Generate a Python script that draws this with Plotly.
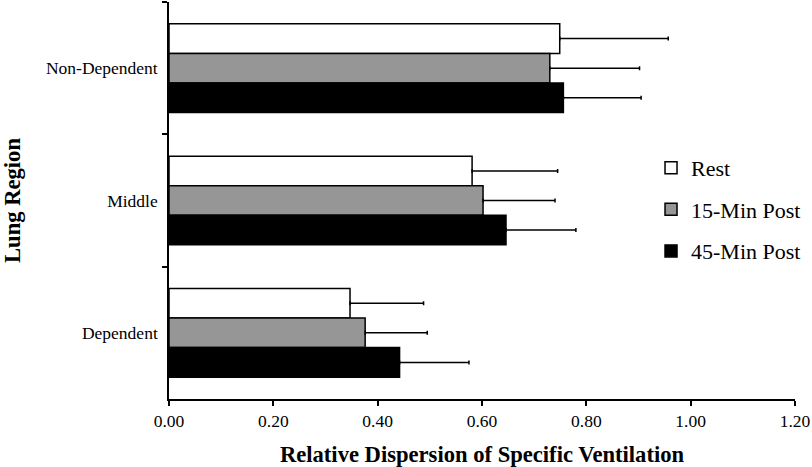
import plotly.graph_objects as go

regions = ["Non-Dependent", "Middle", "Dependent"]
series_names = ["Rest", "15-Min Post", "45-Min Post"]
rest = [0.749, 0.581, 0.347]
min15 = [0.730, 0.602, 0.376]
min45 = [0.756, 0.646, 0.442]
rest_err = [0.208, 0.164, 0.141]
min15_err = [0.172, 0.138, 0.119]
min45_err = [0.149, 0.134, 0.133]
colors = ["#ffffff", "#969696", "#000000"]

FONT = "Liberation Serif, Times New Roman, serif"

fig = go.Figure()
for i, (name, vals, errs, col) in enumerate(zip(series_names, [rest, min15, min45],
                                 [rest_err, min15_err, min45_err], colors)):
    fig.add_trace(go.Bar(
        y=regions, x=vals, name=name, orientation="h", legendgroup=str(i),
        marker=dict(color=col, line=dict(color="black", width=1.5)),
        error_x=dict(type="data", array=errs, symmetric=False, arrayminus=[0]*len(errs),
                     color="black", thickness=1.5, width=2),
    ))

fig.update_layout(
    width=812, height=467,
    margin=dict(l=169, r=17, t=2, b=68),
    plot_bgcolor="white", paper_bgcolor="white",
    font=dict(family=FONT, color="black", size=17.5),
    barmode="group", bargap=0.33, bargroupgap=0,
    showlegend=True,
    legend=dict(x=0.77, xanchor="left", y=0.635, yanchor="top",
                font=dict(size=22, family=FONT), tracegroupgap=10,
                bgcolor="rgba(0,0,0,0)"),
    xaxis=dict(range=[0, 1.2], dtick=0.2, tickformat=".2f", automargin=False,
               showline=True, linecolor="black", linewidth=1.5,
               ticks="outside", ticklen=5, tickwidth=1.5, tickcolor="black",
               showgrid=False, zeroline=False,
               title=dict(text="<b>Relative Dispersion of Specific Ventilation</b>",
                          font=dict(size=22.6, family=FONT), standoff=16)),
    yaxis=dict(autorange="reversed", tickson="boundaries", automargin=False,
               showline=True, linecolor="black", linewidth=1.5,
               ticks="outside", ticklen=5, tickwidth=1.5, tickcolor="black",
               showgrid=False, zeroline=False, ticklabelstandoff=6,
               title=dict(text="<b>Lung Region</b>",
                          font=dict(size=22.6, family=FONT), standoff=32)),
)

fig.write_html("out.html", config={"displayModeBar": False},
               post_script="document.body.style.margin='0';")
